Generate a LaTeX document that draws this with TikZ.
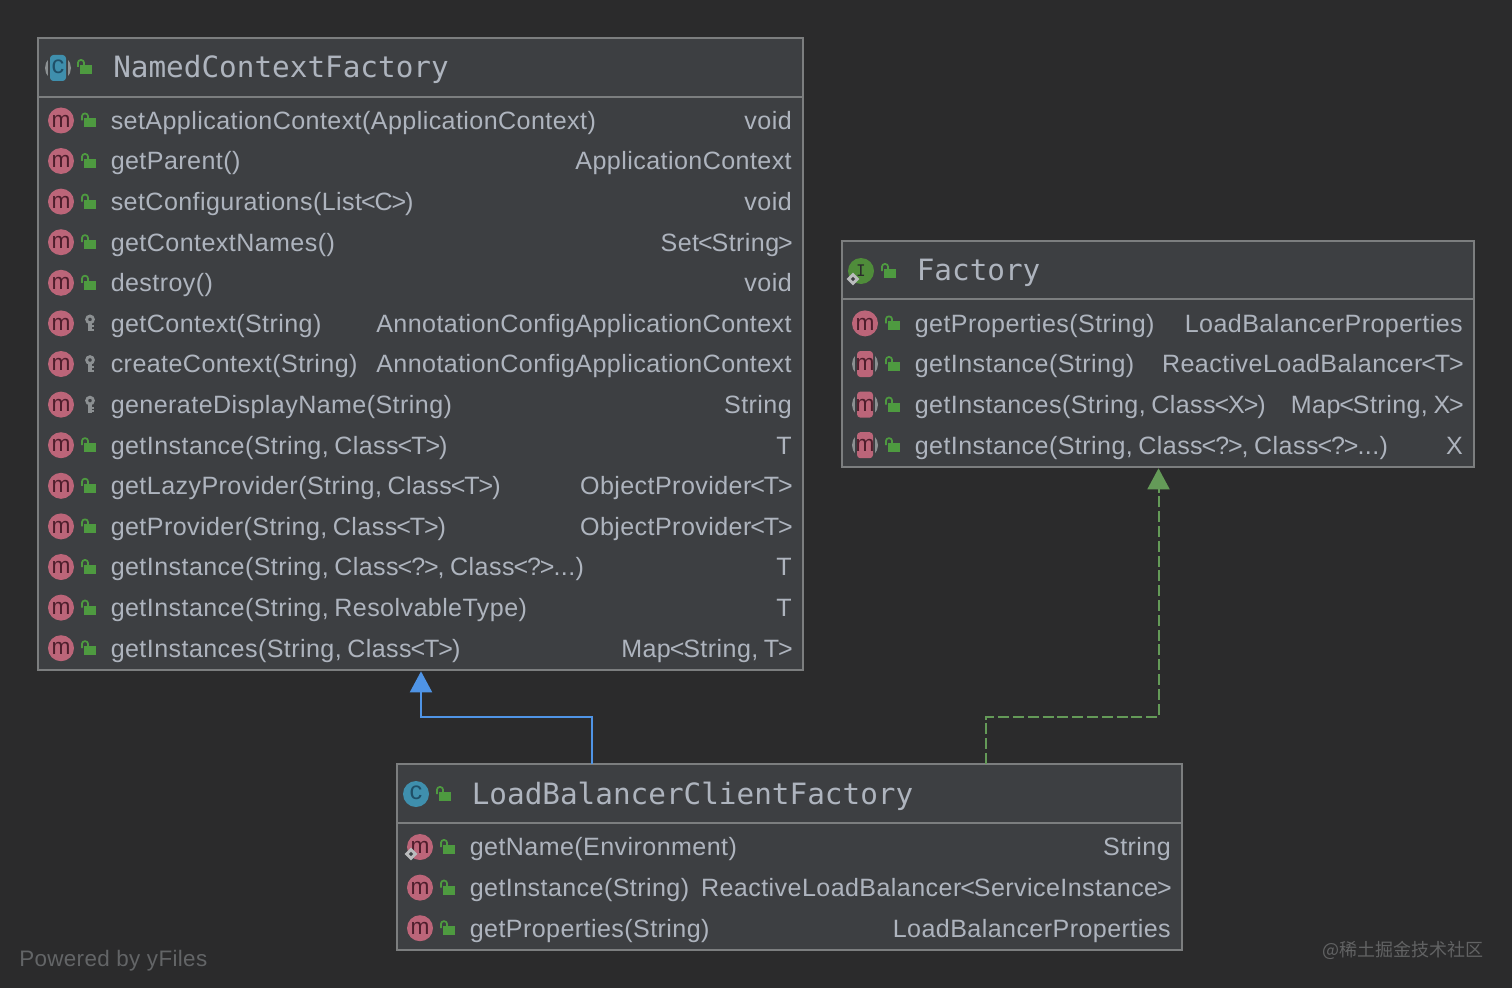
\documentclass[tikz,border=0pt]{standalone}
\usepackage{fontspec}
\setmainfont{Liberation Sans}
\newfontfamily\bodyf[LetterSpace=1.7,WordSpace=0.75]{Liberation Sans}
\newfontfamily\powf[LetterSpace=1.6]{Liberation Sans}
\newfontfamily\titlef{DejaVu Sans Mono}
\newfontfamily\cjkf{Noto Sans CJK SC}
\usetikzlibrary{arrows.meta}
\definecolor{bgc}{HTML}{2B2B2C}
\definecolor{boxc}{HTML}{3D3F42}
\definecolor{edgec}{HTML}{7C7E7F}
\definecolor{txtc}{HTML}{AEB4BE}
\definecolor{pinkc}{HTML}{BC6579}
\definecolor{mc}{HTML}{4E1E2C}
\definecolor{tealc}{HTML}{3F8FAD}
\definecolor{cc}{HTML}{1F4F68}
\definecolor{greenc}{HTML}{4E9A40}
\definecolor{ifc}{HTML}{4F8C3A}
\definecolor{grayc}{HTML}{8C9092}
\definecolor{bluec}{HTML}{4F94E6}
\definecolor{dashc}{HTML}{649A58}
\definecolor{powc}{HTML}{636567}
\definecolor{wmc}{HTML}{626364}
\newcounter{nid}
\newcommand{\nn}{n\arabic{nid}}
\newcommand{\nx}{\stepcounter{nid}}
\newcommand{\LT}{\kern-0.8pt<\kern-0.8pt}
\newcommand{\GT}{\kern-0.8pt>\kern-0.8pt}
\tikzset{
  classbox/.style={draw=edgec,line width=1.5pt,fill=boxc,anchor=north west,inner sep=0pt,outer sep=0pt},
  titletxt/.style={anchor=base west,inner sep=0pt,text=txtc,font=\titlef\fontsize{22}{24}\selectfont},
  rowtxt/.style={anchor=base west,inner sep=0pt,text=txtc,font=\bodyf\fontsize{18.8}{22}\selectfont},
  typetxt/.style={rowtxt,anchor=base east},
  icontxt/.style={inner sep=0pt,font=\fontsize{17}{17}\selectfont},
  inherit/.style={draw=bluec,line width=1.6pt},
  implement/.style={draw=dashc,line width=1.5pt,dash pattern=on 8.2pt off 2.9pt},
}
% class box: name, x0, y0, x1, y1, divider y
\newcommand{\classbox}[6]{%
  \pgfmathsetmacro{\bw}{(#4-#2)*0.75}\pgfmathsetmacro{\bh}{(#5-#3)*0.75}%
  \node[classbox,minimum width=\bw pt,minimum height=\bh pt] (#1) at (#2,#3) {};
  \draw[edgec,line width=1.2pt] (#2,#6) -- (#4,#6);}
\newcommand{\lockicon}[2]{\begin{scope}[shift={(#1,#2)}]
  \fill[greenc] (-5,-2) rectangle (7,7);
  \draw[greenc,line width=1.3pt,rounded corners=2pt] (-7,0) -- (-7,-7) -- (-1,-7) -- (-1,-1);
\end{scope}}
\newcommand{\keyicon}[2]{\begin{scope}[shift={(#1,#2)}]
  \draw[grayc,line width=2.1pt] (1,-4) circle[radius=3.4];
  \draw[grayc,line width=2.6pt] (1,-1) -- (1,8);
  \draw[grayc,line width=1.5pt] (1,3) -- (4.5,3) (1,6.5) -- (4.5,6.5);
\end{scope}}
\newcommand{\mcircle}[2]{\fill[pinkc] (#1,#2) circle[radius=13];}
\newcommand{\mletter}[2]{\nx\node[icontxt,text=mc] (\nn) at (#1,#2+0.5) {m};}
\newcommand{\cletter}[2]{\nx\node[icontxt,text=cc,font=\fontsize{19}{19}\selectfont] (\nn) at (#1,#2-1) {c};}
\newcommand{\iconM}[2]{\mcircle{#1}{#2}\mletter{#1}{#2}}
\newcommand{\iconAM}[2]{\fill[grayc] (#1,#2) circle[radius=13];
  \fill[boxc] (#1-10,#2-14) rectangle (#1+10,#2+14);
  \fill[pinkc,rounded corners=2.5pt] (#1-8,#2-13) rectangle (#1+8,#2+13);
  \mletter{#1}{#2}}
\newcommand{\diamondicon}[2]{\fill[rotate around={45:(#1,#2)},fill=grayc!60!white] (#1-4.5,#2-4.5) rectangle (#1+4.5,#2+4.5);
  \fill[rotate around={45:(#1,#2)},fill=boxc] (#1-1.5,#2-1.5) rectangle (#1+1.5,#2+1.5);}
% row: box left x, box right x, y, icon, vis icon, name, type
\newcommand{\mrow}[7]{%
  \pgfmathsetmacro{\ix}{#1+23}\pgfmathsetmacro{\lx}{#1+51}\pgfmathsetmacro{\tx}{#1+72.5}\pgfmathsetmacro{\rx}{#2-11}%
  \pgfmathsetmacro{\by}{#3+8.8}%
  #4{\ix}{#3}#5{\lx}{#3}
  \nx\node[rowtxt] (\nn) at (\tx,\by) {#6};
  \nx\node[typetxt] (\nn) at (\rx,\by) {#7};}
\begin{document}
\begin{tikzpicture}[x=0.75pt,y=-0.75pt]
\useasboundingbox (0,0) rectangle (1512,988);
\fill[bgc] (0,0) rectangle (1512,988);

% NamedContextFactory
\classbox{ncf}{38}{38}{803}{670}{97}
\fill[grayc] (58,68) circle[radius=13];
\fill[boxc] (48,54) rectangle (68,82);
\fill[tealc,rounded corners=2.5pt] (50,55) rectangle (66,81);
\cletter{58}{68}
\lockicon{85}{67}
\node[titletxt] (ncft) at (113,78) {NamedContextFactory};
\mrow{38}{803}{120.5}{\iconM}{\lockicon}{setApplicationContext(ApplicationContext)}{void}
\mrow{38}{803}{161}{\iconM}{\lockicon}{getParent()}{ApplicationContext}
\mrow{38}{803}{201.6}{\iconM}{\lockicon}{setConfigurations(List\LT C\GT)}{void}
\mrow{38}{803}{242.2}{\iconM}{\lockicon}{getContextNames()}{Set\LT String\GT}
\mrow{38}{803}{282.8}{\iconM}{\lockicon}{destroy()}{void}
\mrow{38}{803}{323.4}{\iconM}{\keyicon}{getContext(String)}{AnnotationConfigApplicationContext}
\mrow{38}{803}{364}{\iconM}{\keyicon}{createContext(String)}{AnnotationConfigApplicationContext}
\mrow{38}{803}{404.6}{\iconM}{\keyicon}{generateDisplayName(String)}{String}
\mrow{38}{803}{445.2}{\iconM}{\lockicon}{getInstance(String, Class\LT T\GT)}{T}
\mrow{38}{803}{485.8}{\iconM}{\lockicon}{getLazyProvider(String, Class\LT T\GT)}{ObjectProvider\LT T\GT}
\mrow{38}{803}{526.4}{\iconM}{\lockicon}{getProvider(String, Class\LT T\GT)}{ObjectProvider\LT T\GT}
\mrow{38}{803}{567}{\iconM}{\lockicon}{getInstance(String, Class\LT ?\GT, Class\LT ?\GT...)}{T}
\mrow{38}{803}{607.6}{\iconM}{\lockicon}{getInstance(String, ResolvableType)}{T}
\mrow{38}{803}{648.2}{\iconM}{\lockicon}{getInstances(String, Class\LT T\GT)}{Map\LT String, T\GT}

% Factory
\classbox{fac}{842}{241}{1474}{467}{299}
\fill[ifc] (861,271) circle[radius=13];
\nx\node[icontxt,text=bgc,font=\titlef\fontsize{12}{12}\selectfont] (\nn) at (861,271) {I};
\diamondicon{853}{279}
\lockicon{889}{271}
\node[titletxt] (fact) at (916.5,280) {Factory};
\mrow{842}{1474}{323.4}{\iconM}{\lockicon}{getProperties(String)}{LoadBalancerProperties}
\mrow{842}{1474}{364}{\iconAM}{\lockicon}{getInstance(String)}{ReactiveLoadBalancer\LT T\GT}
\mrow{842}{1474}{404.6}{\iconAM}{\lockicon}{getInstances(String, Class\LT X\GT)}{Map\LT String, X\GT}
\mrow{842}{1474}{445.2}{\iconAM}{\lockicon}{getInstance(String, Class\LT ?\GT, Class\LT ?\GT...)}{X}

% LoadBalancerClientFactory
\classbox{lbc}{397}{764}{1182}{950}{823}
\fill[tealc] (416,794) circle[radius=13];
\cletter{416}{794}
\lockicon{444}{794}
\node[titletxt] (lbct) at (471.5,804) {LoadBalancerClientFactory};
\mrow{397}{1182}{847}{\iconM}{\lockicon}{getName(Environment)}{String}
\diamondicon{411}{854}
\mrow{397}{1182}{887.6}{\iconM}{\lockicon}{getInstance(String)}{ReactiveLoadBalancer\LT ServiceInstance\GT}
\mrow{397}{1182}{928.2}{\iconM}{\lockicon}{getProperties(String)}{LoadBalancerProperties}

% connectors
\coordinate (b1) at (421,717);
\coordinate (b2) at (592,717);
\coordinate (b3) at (986,717);
\coordinate (b4) at (1158.5,717);
\draw[inherit,shorten >=1pt,-{Triangle[length=15.75pt,width=16.5pt,fill=bluec]}] (lbc.north -| b2) -- (b2) -- (b1) -- (ncf.south -| b1);
\draw[implement,shorten >=1pt,-{Triangle[length=15.75pt,width=16.5pt,fill=dashc]}] (lbc.north -| b3) -- (b3) -- (b4) -- (fac.south -| b4);

% footer
\node[anchor=base west,inner sep=0pt,text=powc,font=\powf\fontsize{16.8}{20}\selectfont] (pow) at (19,966) {Powered by yFiles};
\node[anchor=base east,inner sep=0pt,text=wmc,font=\cjkf\fontsize{13.5}{18}\selectfont] (wm) at (1484,956) {@稀土掘金技术社区};
\end{tikzpicture}
\end{document}
